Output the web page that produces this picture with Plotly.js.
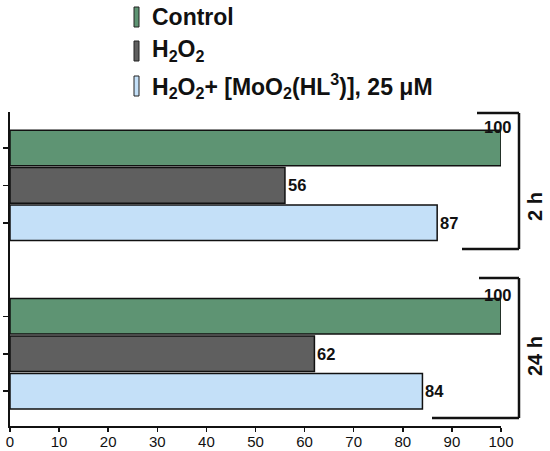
<!DOCTYPE html>
<html>
<head>
<meta charset="utf-8">
<script src="https://cdn.plot.ly/plotly-3.0.1.min.js"></script>
<style>html,body{margin:0;padding:0;background:#fff;}#chart{width:550px;height:451px;}</style>
</head>
<body>
<div id="chart"></div>
<script>
// ---- data ----
const groups = ["2 h", "24 h"];
const seriesNames = ["Control", "H<sub>2</sub>O<sub>2</sub>", "H<sub>2</sub>O<sub>2</sub>+ [MoO<sub>2</sub>(HL<sup>3</sup>)], 25 μM"];
const controlValues = [100, 100];
const h2o2Values = [56, 62];
const moValues = [87, 84];
const xTicks = [0, 10, 20, 30, 40, 50, 60, 70, 80, 90, 100];

// ---- styles ----
const colors = ["#5e9473", "#5f5f5f", "#c4e0f8"];
const allValues = [controlValues, h2o2Values, moValues];
const groupGap = 2.5; // distance between groups in bar units
const fontFam = "Liberation Sans, Arial, sans-serif";

function pos(g, s) { return g * (seriesNames.length - 1 + groupGap) + s; }

const traces = allValues.map((vals, s) => ({
  type: "bar",
  orientation: "h",
  name: seriesNames[s],
  x: vals,
  y: groups.map((_, g) => pos(g, s)),
  width: 0.95,
  marker: { color: colors[s], line: { color: "#111", width: 1.5 } },
  showlegend: false,
  hoverinfo: "x"
}));

const annotations = [];
allValues.forEach((vals, s) => {
  vals.forEach((v, g) => {
    const top = v >= 100;
    annotations.push({
      xref: "x", yref: "y",
      x: v, y: pos(g, s),
      text: "<b>" + v + "</b>",
      showarrow: false,
      xanchor: top ? "center" : "left",
      xshift: top ? -3 : 1,
      yshift: top ? 21 : 0,
      font: { family: fontFam, size: 16.5, color: "#111" }
    });
  });
});

// custom legend
const shapes = [];
const legendY = [17, 51, 86]; // pixel centers
const axTop = 112, axBot = 426, axL = 10, axR = 501;
const toPY = py => (axBot - py) / (axBot - axTop);
const toPX = px => (px - axL) / (axR - axL);
seriesNames.forEach((n, s) => {
  shapes.push({
    type: "rect", xref: "paper", yref: "paper",
    x0: toPX(134), x1: toPX(139), y0: toPY(legendY[s] + 10), y1: toPY(legendY[s] - 10),
    fillcolor: colors[s], line: { color: "#222", width: 1 }
  });
  annotations.push({
    xref: "paper", yref: "paper", x: toPX(150), y: toPY(legendY[s]),
    xanchor: "left", yanchor: "middle", showarrow: false,
    text: "<b>" + n + "</b>",
    font: { family: fontFam, size: 23, color: "#111" }
  });
});

// brackets
function bracket(topY, botY, topX0, botX0, x1) {
  const lw = 2.5, c = "#111";
  shapes.push({ type: "line", xref: "paper", yref: "paper", x0: toPX(topX0), x1: toPX(x1), y0: toPY(topY), y1: toPY(topY), line: { color: c, width: lw } });
  shapes.push({ type: "line", xref: "paper", yref: "paper", x0: toPX(x1), x1: toPX(x1), y0: toPY(topY), y1: toPY(botY), line: { color: c, width: lw } });
  shapes.push({ type: "line", xref: "paper", yref: "paper", x0: toPX(botX0), x1: toPX(x1), y0: toPY(botY), y1: toPY(botY), line: { color: c, width: lw } });
}
bracket(113, 249, 477, 462, 519);
bracket(278, 418, 479, 432, 519);
const groupLabelY = [207, 356];
groups.forEach((gname, g) => {
  annotations.push({
    xref: "paper", yref: "paper", x: toPX(535), y: toPY(groupLabelY[g]),
    text: "<b>" + gname + "</b>", textangle: -90, showarrow: false,
    xanchor: "center", yanchor: "middle",
    font: { family: fontFam, size: 20, color: "#111" }
  });
});

const nPerGroup = seriesNames.length;
const lastPos = pos(groups.length - 1, nPerGroup - 1);
const layout = {
  width: 550, height: 451,
  margin: { l: axL, r: 550 - axR, t: axTop, b: 451 - axBot },
  paper_bgcolor: "#fff", plot_bgcolor: "#fff",
  showlegend: false,
  barmode: "overlay",
  xaxis: {
    range: [0, 100],
    tickvals: xTicks,
    ticks: "outside", ticklen: 4, tickwidth: 1.5, tickcolor: "#111",
    ticklabelstandoff: -3,
    showline: true, linecolor: "#111", linewidth: 1.8,
    showgrid: false, zeroline: false,
    tickfont: { family: fontFam, size: 15, color: "#111" }
  },
  yaxis: {
    range: [lastPos + 0.93, -0.96],
    tickvals: groups.flatMap((_, g) => seriesNames.map((__, s) => pos(g, s))),
    showticklabels: false,
    ticks: "outside", ticklen: 5, tickwidth: 1.5, tickcolor: "#111",
    showline: true, linecolor: "#111", linewidth: 1.8,
    showgrid: false, zeroline: false
  },
  shapes: shapes,
  annotations: annotations
};

Plotly.newPlot("chart", traces, layout, { displayModeBar: false, staticPlot: true });
</script>
</body>
</html>
